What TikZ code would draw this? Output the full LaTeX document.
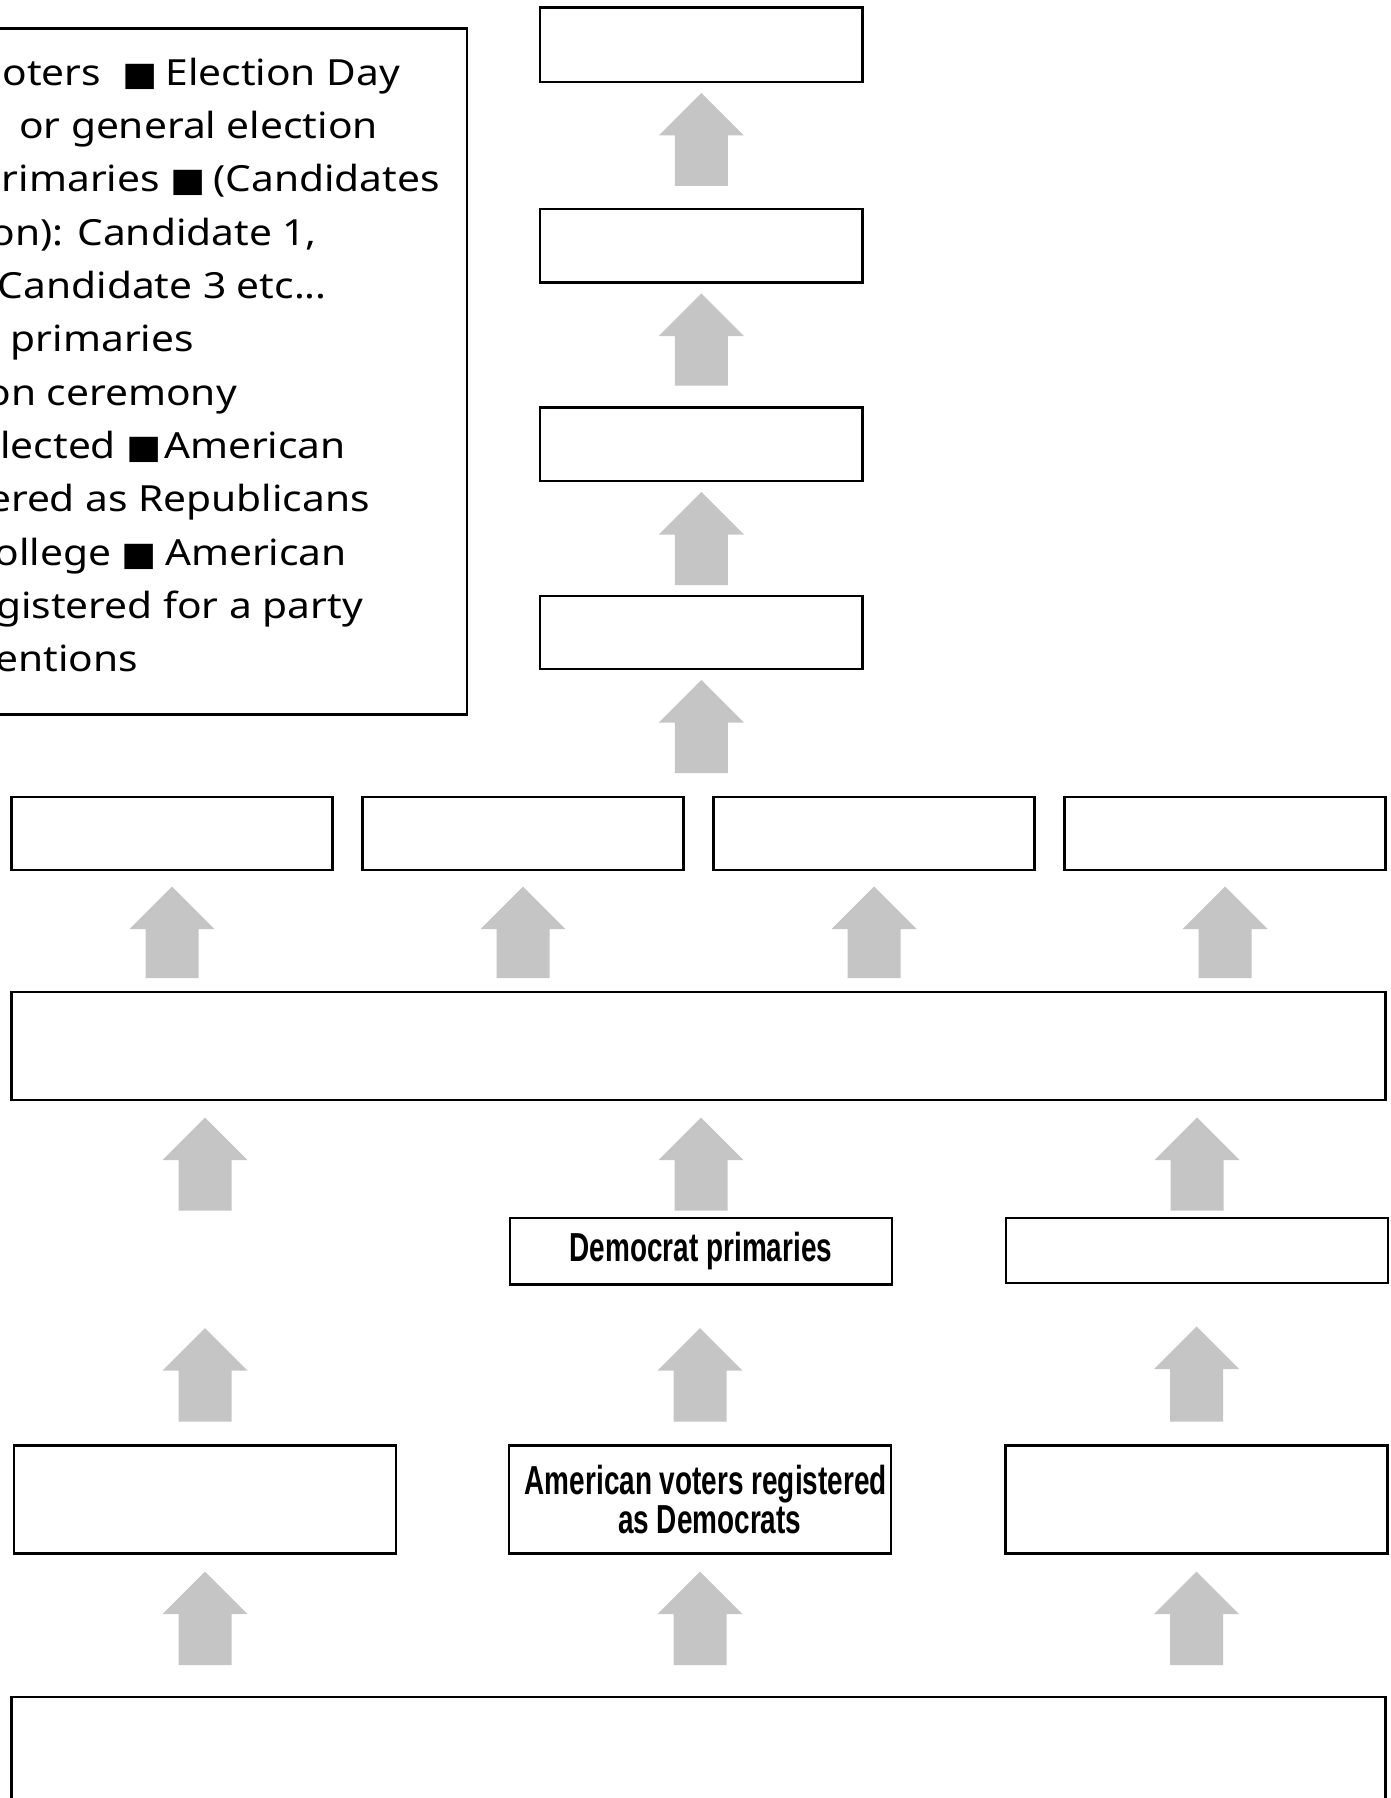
\documentclass[tikz,border=0pt]{standalone}
\usepackage{fontspec}
\setmainfont{Noto Sans}
\newfontfamily\legfont{Noto Sans}
\newfontfamily\symfont{DejaVu Sans}
\newfontfamily\oswf{Liberation Sans}
\usetikzlibrary{calc}
\definecolor{arrowgray}{RGB}{197,197,197}
\newcommand\osw[1]{\scalebox{0.69}[1]{\oswf\bfseries #1}}
\newcommand\lgw[1]{\scalebox{1.13}[1]{#1}}
\newcommand\sq{{\symfont\fontsize{33}{40}\selectfont ■}}
\newcommand\sqsp{\hspace{7pt}}
\tikzset{
  box/.style={draw=black, line width=2.6pt, fill=white, inner sep=0pt, outer sep=0pt},
  legtext/.style={anchor=base east, inner sep=0pt, font=\legfont\fontsize{36}{40}\selectfont},
  oswtext/.style={font=\fontsize{40.5}{39}\selectfont, align=center},
  blockarrow/.style={fill=arrowgray, draw=none, to path={
    let \p1=(\tikztostart), \p2=(\tikztotarget) in
    (\x1-26.5pt,\y1) -- (\x1-26.5pt,\y2-42.5pt) -- (\x1-42.5pt,\y2-42.5pt) -- (\x1,\y2)
    -- (\x1+42.5pt,\y2-42.5pt) -- (\x1+26.5pt,\y2-42.5pt) -- (\x1+26.5pt,\y1) -- cycle}}
}
\begin{document}
\begin{tikzpicture}[x=1pt,y=-1pt]
\useasboundingbox (0,0) rectangle (1390,1798);
\clip (0,0) rectangle (1390,1798);
\fill[white] (0,0) rectangle (1390,1798);

% legend box (left edge outside the picture)
\node[box, minimum width=497, minimum height=686] (legend) at (218.5,371.6) {};
\node[legtext] (leg1) at (400,85.4) {\lgw{oters \ \sq\sqsp Election Day}};
\node[legtext] (leg2) at (378,138.7) {\lgw{or general election}};
\node[legtext] (leg3) at (440,192.0) {\lgw{primaries \sq\sqsp(Candidates}};
\node[legtext] (leg4) at (317,245.3) {\lgw{on): Candidate 1,}};
\node[legtext] (leg5) at (327,298.6) {\lgw{Candidate 3 etc...}};
\node[legtext] (leg6) at (194,351.9) {\lgw{primaries}};
\node[legtext] (leg7) at (237,405.2) {\lgw{on ceremony}};
\node[legtext] (leg8) at (346,458.5) {\lgw{elected \sq\hspace{2pt}American}};
\node[legtext] (leg9) at (370,511.8) {\lgw{ered as Republicans}};
\node[legtext] (leg10) at (347,565.1) {\lgw{ollege \sq\sqsp American}};
\node[legtext] (leg11) at (363,618.4) {\lgw{gistered for a party}};
\node[legtext] (leg12) at (138,671.7) {\lgw{entions}};

% top column
\node[box, minimum width=322.5, minimum height=74.5] (T1) at (701.25,44.75) {};
\node[box, minimum width=322.5, minimum height=73.5] (T2) at (701.25,245.75) {};
\node[box, minimum width=322.5, minimum height=73.5] (T3) at (701.25,444.25) {};
\node[box, minimum width=322.5, minimum height=73] (T4) at (701.25,632.5) {};

% row of four
\node[box, minimum width=321, minimum height=73] (R1) at (172,833.5) {};
\node[box, minimum width=321, minimum height=73] (R2) at (523,833.5) {};
\node[box, minimum width=321, minimum height=73] (R3) at (874,833.5) {};
\node[box, minimum width=321, minimum height=73] (R4) at (1225,833.5) {};

% big box
\node[box, minimum width=1374, minimum height=108] (B) at (698.5,1046) {};

% middle row
\node[box, minimum width=382, minimum height=66.5, oswtext] (M2) at (701,1251.25)
  {\raisebox{-4.5pt}{\osw{Democrat primaries}}};
\node[box, minimum width=382, minimum height=65] (M3) at (1197,1250.5) {};

% lower row
\node[box, minimum width=382, minimum height=108] (L1) at (205,1499.5) {};
\node[box, minimum width=382, minimum height=108, oswtext] (L2) at (700,1499.5)
  {\hspace*{11.5pt}\osw{American voters registered}\\\hspace*{19.5pt}\osw{as Democrats}};
\node[box, minimum width=382, minimum height=108] (L3) at (1196.5,1499.5) {};

% bottom box (cut off by the lower edge)
\node[box, minimum width=1374, minimum height=133] (Z) at (698.5,1763.5) {};

% helper coordinates
\coordinate (lmt) at (L1.north |- M2.north);
\coordinate (lmb) at (L1.north |- M2.south);
\coordinate (rowmid) at (T4.south |- R2.north);

% arrows: top column
\fill[blockarrow] ($(T2.north)+(0,-23)$) to ($(T1.south)+(0,11)$);
\fill[blockarrow] ($(T3.north)+(0,-22)$) to ($(T2.south)+(0,11)$);
\fill[blockarrow] ($(T4.north)+(0,-11)$) to ($(T3.south)+(0,11)$);
\fill[blockarrow] ($(rowmid)+(0,-24)$) to ($(T4.south)+(0,11)$);

% arrows: big box -> row of four
\foreach \r in {R1,R2,R3,R4}{
  \fill[blockarrow] ($(\r.south |- B.north)+(0,-14)$) to ($(\r.south)+(0,16.5)$);
}

% arrows: middle row -> big box
\fill[blockarrow] ($(lmt)+(0,-7.5)$) to ($(L1.north |- B.south)+(0,17.5)$);
\fill[blockarrow] ($(M2.north)+(0,-7.5)$) to ($(M2.north |- B.south)+(0,17.5)$);
\fill[blockarrow] ($(M3.north)+(0,-7.5)$) to ($(M3.north |- B.south)+(0,17.5)$);

% arrows: lower row -> middle row
\fill[blockarrow] ($(L1.north)+(0,-24)$) to ($(lmb)+(0,43.5)$);
\fill[blockarrow] ($(L2.north)+(0,-24)$) to ($(L2.north |- M2.south)+(0,43.5)$);
\fill[blockarrow] ($(L3.north)+(0,-24)$) to ($(L3.north |- M3.south)+(0,43.5)$);

% arrows: bottom box -> lower row
\fill[blockarrow] ($(L1.south |- Z.north)+(0,-32)$) to ($(L1.south)+(0,18)$);
\fill[blockarrow] ($(L2.south |- Z.north)+(0,-32)$) to ($(L2.south)+(0,18)$);
\fill[blockarrow] ($(L3.south |- Z.north)+(0,-32)$) to ($(L3.south)+(0,18)$);
\end{tikzpicture}
\end{document}
